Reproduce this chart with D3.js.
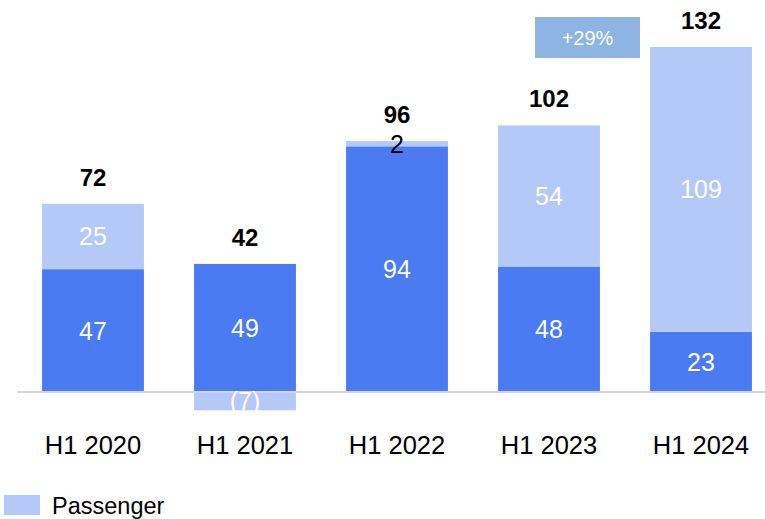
<!DOCTYPE html>
<html><head><meta charset="utf-8">
<script src="https://cdn.jsdelivr.net/npm/d3@7"></script>
<style>body{margin:0;background:#fff}svg{display:block;font-family:"Liberation Sans",Arial,sans-serif}</style>
</head><body><svg id="c" width="765" height="519"></svg>
<script>
const categories = ["H1 2020","H1 2021","H1 2022","H1 2023","H1 2024"];
const baseValues = [47,49,94,48,23];
const passengerValues = [25,-7,2,54,109];
const totals = [72,42,96,102,132];
const passengerLabels = ["25","(7)","2","54","109"];
const growthLabel = "+29%";
const legendLabel = "Passenger";

const colDark = "#4A7BF2", colLight = "#B5C9F8";
const svg = d3.select("#c");
const x = d3.scaleBand().domain(categories).range([17, 777]).paddingInner(0.33).paddingOuter(0.165);
const y = d3.scaleLinear().domain([0, 132]).range([392, 47]);

// segments
const segs = [];
categories.forEach((c,i)=>{
  segs.push({c, y0:0, y1:baseValues[i], col:colDark, label:String(baseValues[i]), txt:"#fff"});
  const p = passengerValues[i];
  const y0 = p >= 0 ? baseValues[i] : 0;
  const y1 = p >= 0 ? baseValues[i] + p : p;
  segs.push({c, y0, y1, col:colLight, label:passengerLabels[i], txt: Math.abs(p) < 4 ? "#000" : "#fff"});
});
svg.append("g").selectAll("rect").data(segs).join("rect")
  .attr("x", d=>x(d.c)).attr("width", x.bandwidth())
  .attr("y", d=>y(Math.max(d.y0,d.y1))).attr("height", d=>Math.abs(y(d.y0)-y(d.y1)))
  .attr("fill", d=>d.col);

// axis line
svg.append("line").attr("x1",17).attr("x2",765).attr("y1",y(0)).attr("y2",y(0))
  .attr("stroke","#d4d4d4").attr("stroke-width",2);

svg.append("g").selectAll("text").data(segs).join("text")
  .attr("x", d=>x(d.c)+x.bandwidth()/2)
  .attr("y", d=>(y(d.y0)+y(d.y1))/2)
  .attr("dy","0.36em").attr("text-anchor","middle")
  .attr("font-size",25).attr("fill",d=>d.txt).text(d=>d.label);

// totals
svg.append("g").selectAll("text").data(categories).join("text")
  .attr("x", c=>x(c)+x.bandwidth()/2)
  .attr("y", (c,i)=>y(baseValues[i] + Math.max(0,passengerValues[i])) - 18)
  .attr("text-anchor","middle").attr("font-size",24).attr("font-weight","bold").attr("fill","#000")
  .text((c,i)=>totals[i]);

// category axis
const xa = d3.axisBottom(x).tickSize(0).tickPadding(0);
const ga = svg.append("g").attr("transform","translate(0,454)").call(xa);
ga.select(".domain").remove();
ga.selectAll("text").attr("font-size",25.5).attr("fill","#000").attr("dy","0").style("font-family","'Liberation Sans',Arial,sans-serif");

// growth box
svg.append("rect").attr("x",535).attr("y",17).attr("width",105).attr("height",41).attr("fill","#8DB4E3");
svg.append("text").attr("x",587.5).attr("y",38).attr("dy","0.36em").attr("text-anchor","middle")
  .attr("font-size",20).attr("fill","#fff").text(growthLabel);

// legend
svg.append("rect").attr("x",4).attr("y",495).attr("width",36).attr("height",20).attr("fill",colLight);
svg.append("text").attr("x",52).attr("y",514).attr("font-size",23.5).attr("fill","#000").text(legendLabel);
</script></body></html>
